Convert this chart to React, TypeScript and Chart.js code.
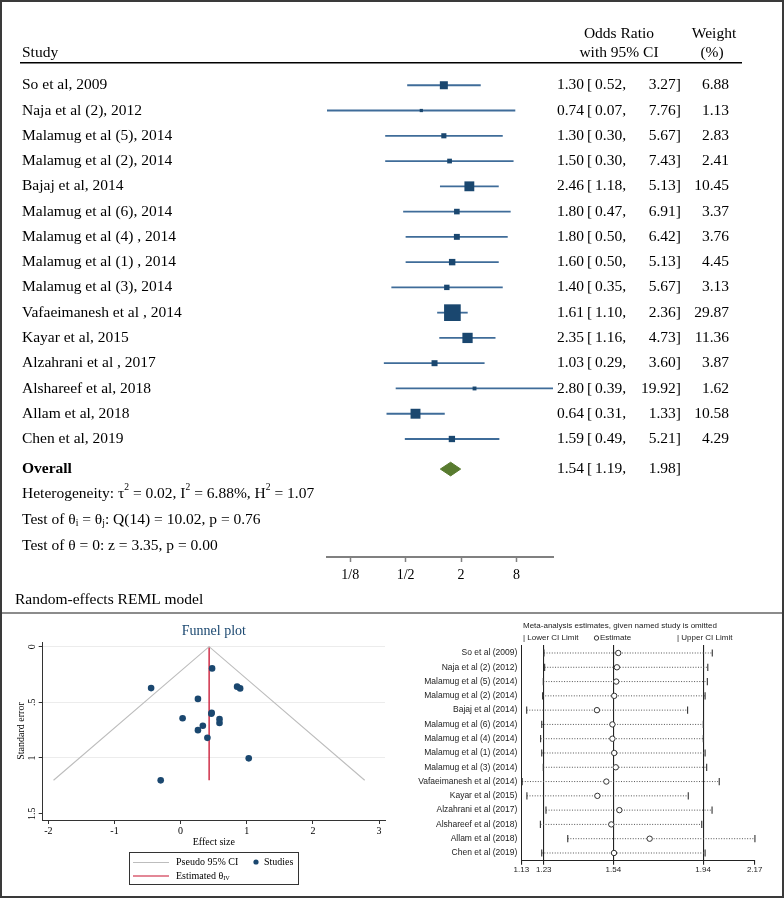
import React, { useEffect, useRef } from 'react';
import { Chart, registerables } from 'chart.js';
Chart.register(...registerables);

const SERIF = "'Liberation Serif', 'Times New Roman', serif";
const SANS = "'Liberation Sans', Arial, sans-serif";

// ---------- Forest plot data ----------
const studies = [
  'So et al, 2009', 'Naja et al (2), 2012', 'Malamug et al (5), 2014', 'Malamug et al (2), 2014',
  'Bajaj et al, 2014', 'Malamug et al (6), 2014', 'Malamug et al (4) , 2014', 'Malamug et al (1) , 2014',
  'Malamug et al (3), 2014', 'Vafaeimanesh et al , 2014', 'Kayar et al, 2015', 'Alzahrani et al , 2017',
  'Alshareef et al, 2018', 'Allam et al, 2018', 'Chen et al, 2019',
];
const oddsRatios = [1.30, 0.74, 1.30, 1.50, 2.46, 1.80, 1.80, 1.60, 1.40, 1.61, 2.35, 1.03, 2.80, 0.64, 1.59];
const ciLower = [0.52, 0.07, 0.30, 0.30, 1.18, 0.47, 0.50, 0.50, 0.35, 1.10, 1.16, 0.29, 0.39, 0.31, 0.49];
const ciUpper = [3.27, 7.76, 5.67, 7.43, 5.13, 6.91, 6.42, 5.13, 5.67, 2.36, 4.73, 3.60, 19.92, 1.33, 5.21];
const weights = [6.88, 1.13, 2.83, 2.41, 10.45, 3.37, 3.76, 4.45, 3.13, 29.87, 11.36, 3.87, 1.62, 10.58, 4.29];
const overallOR = 1.54;
const overallLower = 1.19;
const overallUpper = 1.98;
const forestTicks = [0.125, 0.5, 2, 8];
const forestTickLabels = ['1/8', '1/2', '2', '8'];

// ---------- Funnel plot data ----------
const effectSizes = [0.262, -0.301, 0.262, 0.405, 0.900, 0.588, 0.588, 0.470, 0.336, 0.476, 0.854, 0.030, 1.030, -0.446, 0.464];
const standardErrors = [0.469, 1.201, 0.750, 0.819, 0.375, 0.686, 0.651, 0.594, 0.711, 0.195, 0.359, 0.643, 1.003, 0.372, 0.603];
const thetaIV = 0.431;
const funnelSeMax = 1.2;
const funnelXTicks = [-2, -1, 0, 1, 2, 3];
const funnelYTicks = [0, 0.5, 1, 1.5];
const funnelYLabels = ['0', '.5', '1', '1.5'];

// ---------- Leave-one-out data ----------
const omitLabels = [
  'So et al (2009)', 'Naja et al (2) (2012)', 'Malamug et al (5) (2014)', 'Malamug et al (2) (2014)',
  'Bajaj et al (2014)', 'Malamug et al (6) (2014)', 'Malamug et al (4) (2014)', 'Malamug et al (1) (2014)',
  'Malamug et al (3) (2014)', 'Vafaeimanesh et al (2014)', 'Kayar et al (2015)', 'Alzahrani et al (2017)',
  'Alshareef et al (2018)', 'Allam et al (2018)', 'Chen et al (2019)',
];
const omitLower = [1.231, 1.234, 1.228, 1.225, 1.154, 1.221, 1.216, 1.221, 1.228, 1.134, 1.155, 1.240, 1.215, 1.337, 1.221];
const omitEstimate = [1.562, 1.556, 1.553, 1.544, 1.467, 1.536, 1.536, 1.544, 1.551, 1.509, 1.469, 1.567, 1.531, 1.702, 1.543];
const omitUpper = [1.981, 1.961, 1.959, 1.949, 1.871, 1.941, 1.941, 1.949, 1.956, 2.012, 1.874, 1.980, 1.934, 2.171, 1.949];
const omitTicks = [1.13, 1.23, 1.54, 1.94, 2.17];
const omitRefLines = [1.23, 1.54, 1.94];

// ---------- colours ----------
const NAVY = '#1a476f';
const CI_BLUE = '#3f6c99';
const GREEN = '#587b2f';
const RED = '#c8102e';
const FUNNEL_GREY = '#bdbdbd';

type Part = { t: string; sup?: boolean; sub?: boolean };
function drawRich(ctx: CanvasRenderingContext2D, parts: Part[], x: number, y: number, size: number, family: string) {
  let cx = x;
  ctx.textAlign = 'left';
  for (const p of parts) {
    const s = p.sup || p.sub ? size * 0.62 : size;
    ctx.font = `${s}px ${family}`;
    const dy = p.sup ? -size * 0.38 : p.sub ? size * 0.22 : 0;
    ctx.fillText(p.t, cx, y + dy);
    cx += ctx.measureText(p.t).width;
  }
}

function drawCiText(ctx: CanvasRenderingContext2D, yy: number, or: number, lo: number, hi: number) {
  ctx.textAlign = 'right';
  ctx.fillText(or.toFixed(2), 584, yy);
  ctx.textAlign = 'left';
  ctx.fillText('[', 587, yy);
  ctx.textAlign = 'right';
  ctx.fillText(lo.toFixed(2) + ',', 626, yy);
  ctx.fillText(hi.toFixed(2) + ']', 681, yy);
}

const forestTextPlugin = {
  id: 'forestText',
  afterDraw(chart: any) {
    const { ctx } = chart;
    const ys = chart.scales.y;
    const Y = (v: number) => ys.getPixelForValue(v);
    const F = 15.5;
    ctx.save();
    ctx.fillStyle = '#000';
    ctx.textBaseline = 'middle';
    ctx.font = `${F}px ${SERIF}`;
    ctx.textAlign = 'left';
    ctx.fillText('Study', 22, Y(-1.28));
    ctx.textAlign = 'center';
    ctx.fillText('Odds Ratio', 619, Y(-2.05));
    ctx.fillText('with 95% CI', 619, Y(-1.28));
    ctx.fillText('Weight', 714, Y(-2.05));
    ctx.fillText('(%)', 712, Y(-1.28));
    ctx.strokeStyle = '#000';
    ctx.lineWidth = 1.5;
    ctx.beginPath();
    ctx.moveTo(20, Y(-0.89));
    ctx.lineTo(742, Y(-0.89));
    ctx.stroke();

    studies.forEach((s, i) => {
      const yy = Y(i);
      ctx.textAlign = 'left';
      ctx.fillText(s, 22, yy);
      drawCiText(ctx, yy, oddsRatios[i], ciLower[i], ciUpper[i]);
      ctx.textAlign = 'right';
      ctx.fillText(weights[i].toFixed(2), 729, yy);
    });
    const yo = Y(15.19);
    ctx.textAlign = 'left';
    ctx.font = `bold ${F}px ${SERIF}`;
    ctx.fillText('Overall', 22, yo);
    ctx.font = `${F}px ${SERIF}`;
    drawCiText(ctx, yo, overallOR, overallLower, overallUpper);

    drawRich(ctx, [
      { t: 'Heterogeneity: \u03c4' }, { t: '2', sup: true }, { t: ' = 0.02, I' }, { t: '2', sup: true },
      { t: ' = 6.88%, H' }, { t: '2', sup: true }, { t: ' = 1.07' },
    ], 22, Y(16.16), F, SERIF);
    drawRich(ctx, [
      { t: 'Test of \u03b8' }, { t: 'i', sub: true }, { t: ' = \u03b8' }, { t: 'j', sub: true },
      { t: ': Q(14) = 10.02, p = 0.76' },
    ], 22, Y(17.2), F, SERIF);
    drawRich(ctx, [{ t: 'Test of \u03b8 = 0: z = 3.35, p = 0.00' }], 22, Y(18.22), F, SERIF);
    drawRich(ctx, [{ t: 'Random-effects REML model' }], 15, Y(20.35), F, SERIF);
    ctx.restore();
  },
};

function forestConfig(): any {
  const datasets: any[] = [];
  datasets.push({
    type: 'scatter',
    data: studies.map((_, i) => ({ x: oddsRatios[i], y: i })),
    pointStyle: 'rect',
    pointRadius: (c: any) => (3.05 * Math.sqrt(weights[c.dataIndex] ?? 1)) / Math.SQRT2,
    backgroundColor: NAVY,
    borderWidth: 0,
    clip: false,
  });
  datasets.push({
    type: 'line',
    data: [
      { x: overallLower, y: 15.19 }, { x: overallOR, y: 15.19 - 0.27 }, { x: overallUpper, y: 15.19 },
      { x: overallOR, y: 15.19 + 0.27 }, { x: overallLower, y: 15.19 },
    ],
    borderColor: GREEN,
    backgroundColor: GREEN,
    borderWidth: 1,
    fill: 'shape',
    pointRadius: 0,
    clip: false,
  });
  studies.forEach((_, i) => {
    datasets.push({
      type: 'line',
      data: [{ x: ciLower[i], y: i }, { x: ciUpper[i], y: i }],
      borderColor: CI_BLUE,
      borderWidth: 1.8,
      pointRadius: 0,
      clip: false,
    });
  });
  return {
    type: 'scatter',
    data: { datasets },
    plugins: [forestTextPlugin],
    options: {
      animation: false,
      responsive: false,
      devicePixelRatio: 1,
      events: [],
      layout: { padding: { left: 327, right: 231, top: 0, bottom: 25 } },
      plugins: { legend: { display: false }, tooltip: { enabled: false }, title: { display: false } },
      scales: {
        x: {
          type: 'logarithmic',
          min: 0.07,
          max: 19.92,
          position: 'bottom',
          afterBuildTicks: (s: any) => { s.ticks = forestTicks.map((v) => ({ value: v })); },
          afterFit: (s: any) => { s.height = 30; s.paddingLeft = 0; s.paddingRight = 0; },
          ticks: {
            callback: (_v: any, i: number) => forestTickLabels[i],
            font: { family: SERIF, size: 14 },
            color: '#000',
            padding: 4.6,
            autoSkip: false,
            maxRotation: 0,
          },
          grid: { drawOnChartArea: false, drawTicks: true, tickLength: 5, tickColor: '#808080', tickWidth: 1.5 },
          border: { color: '#808080', width: 2 },
        },
        y: { type: 'linear', reverse: true, min: -2.907, max: 18.67, display: false },
      },
    },
  };
}

const funnelLegendPlugin = {
  id: 'funnelLegend',
  afterDraw(chart: any) {
    const { ctx } = chart;
    ctx.save();
    ctx.strokeStyle = '#333';
    ctx.lineWidth = 1;
    ctx.strokeRect(129.5, 238.5, 169, 32);
    ctx.lineWidth = 1.2;
    ctx.strokeStyle = FUNNEL_GREY;
    ctx.beginPath(); ctx.moveTo(133, 248.5); ctx.lineTo(169, 248.5); ctx.stroke();
    ctx.strokeStyle = RED;
    ctx.beginPath(); ctx.moveTo(133, 262); ctx.lineTo(169, 262); ctx.stroke();
    ctx.fillStyle = NAVY;
    ctx.beginPath(); ctx.arc(256, 248, 2.6, 0, Math.PI * 2); ctx.fill();
    ctx.fillStyle = '#000';
    ctx.textBaseline = 'middle';
    drawRich(ctx, [{ t: 'Pseudo 95% CI' }], 176, 248.5, 10, SERIF);
    drawRich(ctx, [{ t: 'Studies' }], 264, 248.5, 10, SERIF);
    drawRich(ctx, [{ t: 'Estimated \u03b8' }, { t: 'IV', sub: true }], 176, 262, 10, SERIF);
    ctx.restore();
  },
};

function funnelConfig(): any {
  return {
    type: 'scatter',
    data: {
      datasets: [
        {
          type: 'scatter',
          data: effectSizes.map((e, i) => ({ x: e, y: standardErrors[i] })),
          pointRadius: 3.3,
          pointStyle: 'circle',
          backgroundColor: NAVY,
          borderWidth: 0,
          clip: false,
        },
        {
          type: 'line',
          data: [
            { x: thetaIV - 1.96 * funnelSeMax, y: funnelSeMax },
            { x: thetaIV, y: 0 },
            { x: thetaIV + 1.96 * funnelSeMax, y: funnelSeMax },
          ],
          borderColor: FUNNEL_GREY,
          borderWidth: 1.1,
          pointRadius: 0,
          clip: false,
        },
        {
          type: 'line',
          data: [{ x: thetaIV, y: 0 }, { x: thetaIV, y: funnelSeMax }],
          borderColor: RED,
          borderWidth: 1.3,
          pointRadius: 0,
          clip: false,
        },
      ],
    },
    plugins: [funnelLegendPlugin],
    options: {
      animation: false,
      responsive: false,
      devicePixelRatio: 1,
      events: [],
      layout: { padding: { left: 4, right: 15, top: 0, bottom: 49 } },
      plugins: {
        legend: { display: false },
        tooltip: { enabled: false },
        title: {
          display: true,
          text: 'Funnel plot',
          color: NAVY,
          fullSize: false,
          font: { family: SERIF, size: 14, weight: 'normal' },
          padding: { top: 9.3, bottom: 1.9 },
        },
      },
      scales: {
        x: {
          type: 'linear',
          min: -2.085,
          max: 3.09,
          afterBuildTicks: (s: any) => { s.ticks = funnelXTicks.map((v) => ({ value: v })); },
          afterFit: (s: any) => { s.height = 28; s.paddingLeft = 0; s.paddingRight = 0; },
          ticks: { font: { family: SERIF, size: 10 }, color: '#000', padding: 1.5, maxRotation: 0, autoSkip: false, callback: (v: any) => String(v) },
          grid: { drawOnChartArea: false, tickColor: '#333', tickLength: 4 },
          border: { color: '#333', width: 1 },
          title: { display: true, text: 'Effect size', color: '#000', font: { family: SERIF, size: 10 }, padding: { top: 0, bottom: 0 } },
        },
        y: {
          type: 'linear',
          reverse: true,
          min: -0.042,
          max: 1.557,
          position: 'left',
          afterBuildTicks: (s: any) => { s.ticks = funnelYTicks.map((v) => ({ value: v })); },
          afterFit: (s: any) => { s.width = 38.7; s.paddingTop = 0; s.paddingBottom = 0; },
          ticks: {
            callback: (_v: any, i: number) => funnelYLabels[i],
            minRotation: 90,
            maxRotation: 90,
            crossAlign: 'center',
            padding: 0,
            autoSkip: false,
            font: { family: SERIF, size: 10 },
            color: '#000',
          },
          grid: {
            color: (c: any) => (c.tick && c.tick.value < 1.4 ? '#ececec' : 'rgba(0,0,0,0)'),
            tickColor: '#333',
            tickLength: 4,
            lineWidth: 1,
          },
          border: { color: '#333', width: 1 },
          title: { display: true, text: 'Standard error', color: '#000', font: { family: SERIF, size: 10 }, padding: { top: 11.5, bottom: 0 } },
        },
      },
    },
  };
}

const omitTextPlugin = {
  id: 'omitText',
  afterDraw(chart: any) {
    const { ctx } = chart;
    const left = chart.chartArea.left + 1.7;
    ctx.save();
    ctx.fillStyle = '#222';
    ctx.textBaseline = 'middle';
    ctx.textAlign = 'left';
    ctx.font = `8px ${SANS}`;
    ctx.fillText('Meta-analysis estimates, given named study is omitted', left, 12);
    ctx.fillText('| Lower CI Limit', left, 24);
    ctx.strokeStyle = '#222';
    ctx.lineWidth = 0.9;
    ctx.beginPath(); ctx.arc(left + 73.5, 24, 2.2, 0, Math.PI * 2); ctx.stroke();
    ctx.fillText('Estimate', left + 77, 24);
    ctx.fillText('| Upper CI Limit', left + 154, 24);
    ctx.restore();
  },
};

function omitConfig(): any {
  const datasets: any[] = [];
  datasets.push({
    type: 'scatter',
    data: omitEstimate.map((v, i) => ({ x: v, y: i })),
    pointStyle: 'circle',
    pointRadius: 2.7,
    backgroundColor: '#fff',
    borderColor: '#333',
    borderWidth: 1,
    clip: false,
  });
  datasets.push({
    type: 'scatter',
    data: omitLower.map((v, i) => ({ x: v, y: i })),
    pointStyle: 'line',
    pointRotation: 90,
    pointRadius: 3.6,
    borderColor: '#333',
    borderWidth: 1.1,
    clip: false,
  });
  datasets.push({
    type: 'scatter',
    data: omitUpper.map((v, i) => ({ x: v, y: i })),
    pointStyle: 'line',
    pointRotation: 90,
    pointRadius: 3.6,
    borderColor: '#333',
    borderWidth: 1.1,
    clip: false,
  });
  omitLabels.forEach((_, i) => {
    datasets.push({
      type: 'line',
      data: [{ x: omitLower[i], y: i }, { x: omitUpper[i], y: i }],
      borderColor: '#555',
      borderWidth: 1,
      borderDash: [1, 1.6],
      pointRadius: 0,
      clip: false,
    });
  });
  return {
    type: 'scatter',
    data: { datasets },
    plugins: [omitTextPlugin],
    options: {
      animation: false,
      responsive: false,
      devicePixelRatio: 1,
      events: [],
      layout: { padding: { left: 0, right: 27.3, top: 31, bottom: 16.3 } },
      plugins: { legend: { display: false }, tooltip: { enabled: false }, title: { display: false } },
      scales: {
        x: {
          type: 'linear',
          min: 1.13,
          max: 2.17,
          afterBuildTicks: (s: any) => { s.ticks = omitTicks.map((v) => ({ value: v })); },
          afterFit: (s: any) => { s.height = 20; s.paddingLeft = 0; s.paddingRight = 0; },
          ticks: { callback: (v: any) => Number(v).toFixed(2), font: { family: SANS, size: 8 }, color: '#222', padding: 0, maxRotation: 0, autoSkip: false },
          grid: {
            color: (c: any) => (c.tick && omitRefLines.includes(c.tick.value) ? '#222' : 'rgba(0,0,0,0)'),
            tickColor: '#222',
            tickLength: 4,
            lineWidth: 1.1,
          },
          border: { color: '#222', width: 1 },
        },
        y: {
          type: 'linear',
          reverse: true,
          min: -0.56,
          max: 14.54,
          afterBuildTicks: (s: any) => { s.ticks = omitLabels.map((_, i) => ({ value: i })); },
          afterFit: (s: any) => { s.width = 121.3; s.paddingTop = 0; s.paddingBottom = 0; },
          ticks: { callback: (_v: any, i: number) => omitLabels[i], font: { family: SANS, size: 8.5 }, color: '#222', padding: 4, autoSkip: false },
          grid: { display: false, drawTicks: false, tickLength: 0 },
          border: { display: true, color: '#222', width: 1 },
        },
      },
    },
  };
}

export default function App() {
  const forestRef = useRef<HTMLCanvasElement>(null);
  const funnelRef = useRef<HTMLCanvasElement>(null);
  const omitRef = useRef<HTMLCanvasElement>(null);

  useEffect(() => {
    const charts = [
      new Chart(forestRef.current as HTMLCanvasElement, forestConfig()),
      new Chart(funnelRef.current as HTMLCanvasElement, funnelConfig()),
      new Chart(omitRef.current as HTMLCanvasElement, omitConfig()),
    ];
    return () => charts.forEach((c) => c.destroy());
  }, []);

  return (
    <div style={{ position: 'absolute', left: 0, top: 0, width: 784, height: 899, background: '#fff', overflow: 'hidden' }}>
      <canvas ref={forestRef} width={784} height={612} style={{ position: 'absolute', left: 0, top: 0 }} />
      <canvas ref={funnelRef} width={400} height={283} style={{ position: 'absolute', left: 0, top: 614 }} />
      <canvas ref={omitRef} width={382} height={283} style={{ position: 'absolute', left: 400, top: 614 }} />
      <div style={{ position: 'absolute', left: 0, top: 612, width: 784, height: 2, background: '#8c8c8c' }} />
      <div
        style={{
          position: 'absolute', left: 0, top: 0, width: 784, height: 898, boxSizing: 'border-box',
          border: '2px solid #3a3a3a', pointerEvents: 'none',
        }}
      />
    </div>
  );
}
